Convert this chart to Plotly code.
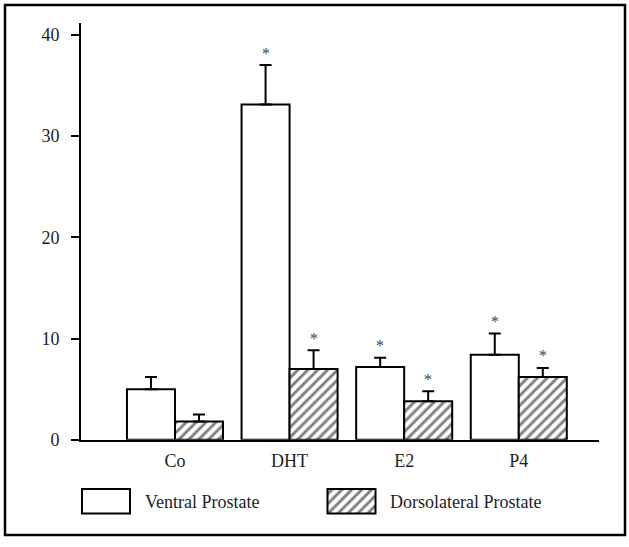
import plotly.graph_objects as go

W, H = 629, 547

categories = ["Co", "DHT", "E2", "P4"]
ventral = [5.0, 33.1, 7.2, 8.4]
ventral_err = [1.2, 3.9, 0.9, 2.1]
dorsal = [1.8, 7.0, 3.8, 6.2]
dorsal_err = [0.7, 1.85, 1.0, 0.9]
ventral_sig = [False, True, True, True]
dorsal_sig = [False, True, True, True]
yticks = [0, 10, 20, 30, 40]
legend_names = ["Ventral Prostate", "Dorsolateral Prostate"]

FONT = "Liberation Serif, Times New Roman, serif"
TXT = "#1e1e1e"

# plot area in pixels
PL, PR, PT, PB = 81, 599, 23, 448
BARGAP = 0.162
half = (1 - BARGAP) / 4.0

fig = go.Figure()

fig.add_trace(go.Bar(
    x=categories, y=ventral, name=legend_names[0],
    marker=dict(color="white", line=dict(color="black", width=2)),
    error_y=dict(type="data", symmetric=False, array=ventral_err,
                 arrayminus=[0] * len(ventral), color="black", thickness=2, width=6),
    showlegend=False, xaxis="x", yaxis="y",
))
fig.add_trace(go.Bar(
    x=categories, y=dorsal, name=legend_names[1],
    marker=dict(color="white", line=dict(color="black", width=2),
                pattern=dict(shape="/", fgcolor="black", bgcolor="white",
                             size=7, solidity=0.42)),
    error_y=dict(type="data", symmetric=False, array=dorsal_err,
                 arrayminus=[0] * len(dorsal), color="black", thickness=2, width=6),
    showlegend=False, xaxis="x", yaxis="y",
))

# legend swatches on a pixel overlay axis
fig.add_trace(go.Bar(
    x=[106, 351.5], y=[25, 25], base=[498, 498], width=[48, 48],
    marker=dict(color="white", line=dict(color="black", width=2),
                pattern=dict(shape=["", "/"], fgcolor="black", bgcolor="white",
                             size=7, solidity=0.42)),
    showlegend=False, xaxis="x2", yaxis="y2", hoverinfo="skip",
))

annotations = []
for i, c in enumerate(categories):
    if ventral_sig[i]:
        annotations.append(dict(x=i - half, y=ventral[i] + ventral_err[i], xref="x", yref="y",
                                text="*", showarrow=False, yanchor="middle", yshift=12,
                                font=dict(family=FONT, size=16, color="#444")))
    if dorsal_sig[i]:
        annotations.append(dict(x=i + half, y=dorsal[i] + dorsal_err[i], xref="x", yref="y",
                                text="*", showarrow=False, yanchor="middle", yshift=12,
                                font=dict(family=FONT, size=16, color="#444")))

annotations.append(dict(x=143, y=511, xref="x2", yref="y2", text=legend_names[0],
                        showarrow=False, xanchor="left", yanchor="middle",
                        font=dict(family=FONT, size=18, color=TXT)))
annotations.append(dict(x=388, y=511, xref="x2", yref="y2", text=legend_names[1],
                        showarrow=False, xanchor="left", yanchor="middle",
                        font=dict(family=FONT, size=18, color=TXT)))

fig.update_layout(
    width=W, height=H,
    margin=dict(l=0, r=0, t=0, b=0),
    paper_bgcolor="white", plot_bgcolor="rgba(0,0,0,0)",
    barmode="group", bargap=BARGAP, bargroupgap=0,
    showlegend=False,
    font=dict(family=FONT, size=18, color=TXT),
    xaxis=dict(domain=[PL / W, PR / W], type="category", range=[-0.82, 3.70],
               showline=True, linecolor="black", linewidth=2, ticks="",
               showgrid=False, zeroline=False, anchor="y", ticklabelstandoff=4,
               tickfont=dict(family=FONT, size=18, color=TXT)),
    yaxis=dict(domain=[(H - PB) / H, (H - PT) / H], range=[0, 41.2],
               tickvals=yticks, ticks="outside", ticklen=8, tickwidth=2, tickcolor="black",
               showline=True, linecolor="black", linewidth=2,
               showgrid=False, zeroline=False, anchor="x", ticklabelstandoff=8,
               tickfont=dict(family=FONT, size=18, color=TXT)),
    xaxis2=dict(domain=[0, 1], range=[0, W], visible=False, anchor="y2", fixedrange=True),
    yaxis2=dict(domain=[0, 1], range=[H, 0], visible=False, anchor="x2", fixedrange=True),
    shapes=[dict(type="rect", xref="x2", yref="y2", x0=5, x1=625, y0=5, y1=545,
                 line=dict(color="black", width=2.5), fillcolor="rgba(0,0,0,0)")],
    annotations=annotations,
)

fig.write_html("out.html", config={"displayModeBar": False})
